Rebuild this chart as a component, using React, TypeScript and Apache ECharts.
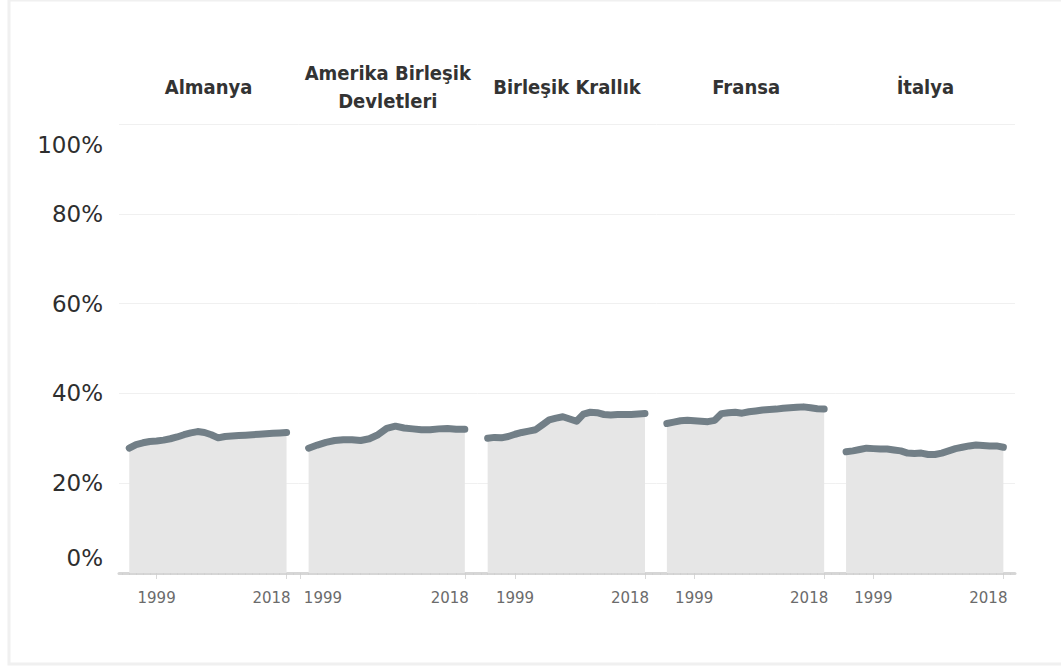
import React, { useEffect, useRef } from "react";
import * as echarts from "echarts";

// Panel (country) names
const countries = ["Almanya", "Amerika Birleşik\nDevletleri", "Birleşik Krallık", "Fransa", "İtalya"];

// Years of each series
const years1995 = [1995, 1996, 1997, 1998, 1999, 2000, 2001, 2002, 2003, 2004, 2005, 2006, 2007, 2008, 2009, 2010, 2011, 2012, 2013, 2014, 2015, 2016, 2017, 2018];
const years2000 = [2000, 2001, 2002, 2003, 2004, 2005, 2006, 2007, 2008, 2009, 2010, 2011, 2012, 2013, 2014, 2015, 2016, 2017, 2018];

// Values (%)
const almanya = [27.8, 28.6, 29.0, 29.3, 29.4, 29.6, 29.9, 30.3, 30.8, 31.2, 31.5, 31.3, 30.8, 30.1, 30.4, 30.5, 30.6, 30.7, 30.8, 30.9, 31.0, 31.1, 31.2, 31.3];
const abd = [27.8, 28.5, 29.1, 29.5, 29.7, 29.7, 29.5, 29.9, 30.8, 32.2, 32.7, 32.3, 32.1, 31.9, 31.9, 32.1, 32.2, 32.0, 32.0];
const birlesikKrallik = [30.0, 30.2, 30.1, 30.4, 30.9, 31.3, 31.6, 31.9, 33.0, 34.1, 34.5, 34.8, 34.3, 33.8, 35.4, 35.8, 35.7, 35.3, 35.2, 35.3, 35.3, 35.3, 35.4, 35.5];
const fransa = [33.3, 33.6, 33.9, 34.0, 33.9, 33.8, 33.7, 34.0, 35.5, 35.7, 35.8, 35.6, 35.9, 36.1, 36.3, 36.4, 36.5, 36.7, 36.8, 36.9, 37.0, 36.8, 36.6, 36.5];
const italya = [27.0, 27.2, 27.5, 27.8, 27.7, 27.6, 27.6, 27.4, 27.2, 26.7, 26.6, 26.7, 26.4, 26.4, 26.7, 27.2, 27.7, 28.0, 28.3, 28.5, 28.4, 28.3, 28.3, 28.0];

// Tick labels
const xTickLabels = [1999, 2018];
const yTicks = [0, 20, 40, 60, 80, 100];
const minorTickYears = [1994, 1995, 1996, 1997, 1998, 1999, 2000, 2001, 2002, 2003, 2004, 2005, 2006, 2007, 2008, 2009, 2010, 2011, 2012, 2013, 2014, 2015, 2016, 2017, 2018, 2019];

const seriesYears = [years1995, years2000, years1995, years1995, years1995];
const seriesValues = [almanya, abd, birlesikKrallik, fransa, italya];
const xDomains = [
  [1993.5, 2019.7],
  [1998.8, 2019.45],
  [1993.5, 2019.7],
  [1993.5, 2019.7],
  [1993.5, 2019.7],
];

export default function App() {
  const ref = useRef<HTMLDivElement>(null);

  useEffect(() => {
    document.body.style.margin = "0";
    if (!ref.current) return;
    const chart = echarts.init(ref.current, undefined, { renderer: "svg" });

    const panelLeft = 119;
    const panelWidth = 179.2;
    const gridTop = 124;
    const gridBottom = 93;
    const lineColor = "#727f87";
    const areaColor = "#e6e6e6";
    const labelFont = "DejaVu Sans";

    const grids: any[] = [];
    const xAxes: any[] = [];
    const yAxes: any[] = [];
    const series: any[] = [];
    const graphics: any[] = [
      {
        type: "rect",
        silent: true,
        shape: { x: 9, y: 0, width: 1060, height: 664 },
        style: { fill: "none", stroke: "#f0f0f0", lineWidth: 3 },
      },
    ];

    countries.forEach((name, i) => {
      const left = panelLeft + i * panelWidth;
      grids.push({ left, top: gridTop, width: panelWidth, bottom: gridBottom });
      const [mn, mx] = xDomains[i];
      const shift1999 = i === 1;
      xAxes.push({
        type: "value",
        gridIndex: i,
        min: mn,
        max: mx,
        position: "bottom",
        splitLine: { show: false },
        axisLine: { show: true, lineStyle: { color: "#d6d6d6", width: 3 } },
        axisTick: {
          show: true,
          customValues: xTickLabels,
          length: 6,
          lineStyle: { color: "#d9d9d9", width: 1 },
        },
        axisLabel: {
          show: true,
          customValues: xTickLabels,
          margin: 17,
          fontFamily: labelFont,
          fontSize: 15,
          color: "#6b6b6b",
          formatter: (v: number) => {
            if (v === 2018) return "{r|" + v + "}";
            if (shift1999) return "{l|" + v + "}";
            return "{c|" + v + "}";
          },
          rich: {
            r: { padding: [0, 30, 0, 0], fontFamily: labelFont, fontSize: 15, color: "#6b6b6b" },
            l: { padding: [0, 0, 0, 46], fontFamily: labelFont, fontSize: 15, color: "#6b6b6b" },
            c: { fontFamily: labelFont, fontSize: 15, color: "#6b6b6b" },
          },
        },
      });
      xAxes.push({
        type: "value",
        gridIndex: i,
        min: mn,
        max: mx,
        position: "bottom",
        splitLine: { show: false },
        axisLine: { show: false },
        axisLabel: { show: false },
        axisTick: {
          show: true,
          customValues: minorTickYears.filter((y) => y >= mn && y <= mx),
          length: 2,
          lineStyle: { color: "#d0d0d0", width: 1 },
        },
      });
      yAxes.push({
        type: "value",
        gridIndex: i,
        min: 0,
        max: 100,
        interval: 20,
        axisLine: { show: false },
        axisTick: { show: false },
        splitLine: { show: true, lineStyle: { color: "#f0f0f0", width: 1 } },
        axisLabel: {
          show: i === 0,
          margin: 16,
          fontFamily: labelFont,
          fontSize: 23,
          color: "#2e2e2e",
          formatter: (v: number) => {
            if (v === 100) return "{t|" + v + "%}";
            if (v === 0) return "{b|" + v + "%}";
            return "{m|" + v + "%}";
          },
          rich: {
            t: { padding: [42, 0, 0, 0], fontFamily: labelFont, fontSize: 23, color: "#2e2e2e" },
            b: { padding: [0, 0, 30, 0], fontFamily: labelFont, fontSize: 23, color: "#2e2e2e" },
            m: { fontFamily: labelFont, fontSize: 23, color: "#2e2e2e" },
          },
        },
      });
      const yrs = seriesYears[i];
      const vals = seriesValues[i];
      series.push({
        type: "line",
        name,
        xAxisIndex: 2 * i,
        yAxisIndex: i,
        data: yrs.map((y, k) => [y, vals[k]]),
        showSymbol: false,
        symbol: "none",
        lineStyle: { color: lineColor, width: 7, cap: "round", join: "round" },
        areaStyle: { color: areaColor, opacity: 1 },
        z: 3,
      });
      graphics.push({
        type: "text",
        silent: true,
        x: left + panelWidth / 2,
        y: 87,
        style: {
          text: name,
          fill: "#333",
          fontFamily: "'DejaVu Sans Condensed', 'DejaVu Sans'",
          fontWeight: "bold",
          fontSize: 20,
          lineHeight: 28,
          align: "center",
          verticalAlign: "middle",
        },
      });
    });

    chart.setOption({
      animation: false,
      backgroundColor: "#ffffff",
      grid: grids,
      xAxis: xAxes,
      yAxis: yAxes,
      series,
      graphic: graphics,
    });

    return () => {
      chart.dispose();
    };
  }, []);

  return (
    <div
      ref={ref}
      style={{ position: "absolute", left: 0, top: 0, width: 1061, height: 666 }}
    />
  );
}
